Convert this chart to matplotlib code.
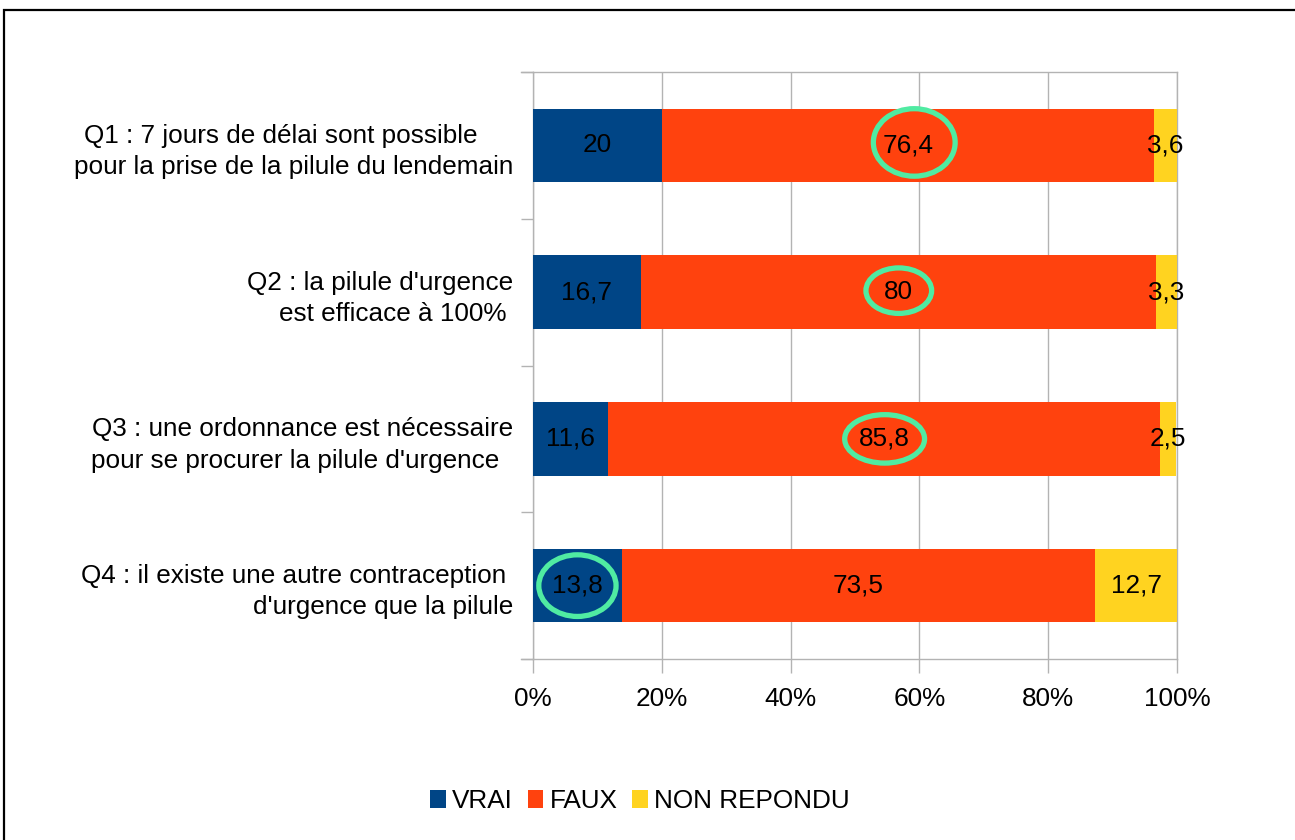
import matplotlib
matplotlib.use("Agg")
import matplotlib.pyplot as plt
from matplotlib import font_manager
from matplotlib.patches import Ellipse, Rectangle
import numpy as np

categories = [
    "Q1 : 7 jours de délai sont possible     \npour la prise de la pilule du lendemain",
    "Q2 : la pilule d'urgence\nest efficace à 100% ",
    "Q3 : une ordonnance est nécessaire\npour se procurer la pilule d'urgence  ",
    "Q4 : il existe une autre contraception \nd'urgence que la pilule",
]
series_names = ["VRAI", "FAUX", "NON REPONDU"]
vrai = [20, 16.7, 11.6, 13.8]
faux = [76.4, 80, 85.8, 73.5]
non_repondu = [3.6, 3.3, 2.5, 12.7]
xticks = [0, 20, 40, 60, 80, 100]
xtick_labels = ["0%", "20%", "40%", "60%", "80%", "100%"]
# highlighted labels: (series index, category index)
highlights = [(1, 0), (1, 1), (1, 2), (0, 3)]

colors = ["#004586", "#ff420e", "#ffd320"]
ring_color = "#50eba2"
grid_color = "#b3b3b3"

# font choice
try:
    font_manager.findfont("Liberation Sans Narrow", fallback_to_default=False)
    fam = ["Liberation Sans Narrow", "DejaVu Sans"]
    fs = 23
except Exception:
    fam = ["Liberation Sans", "DejaVu Sans"]
    fs = 18.8
plt.rcParams["font.family"] = fam

W, H = 1295, 840
fig = plt.figure(figsize=(W / 100, H / 100), dpi=100)
ax = fig.add_axes([533 / W, 1 - 659 / H, (1177 - 533) / W, (659 - 72) / H])

y = np.arange(len(categories))
data = [vrai, faux, non_repondu]
left = np.zeros(len(categories))
containers = []
for i, (vals, c, name) in enumerate(zip(data, colors, series_names)):
    vals = np.array(vals, dtype=float)
    bc = ax.barh(y, vals, left=left, height=0.5, color=c, label=name, zorder=3)
    containers.append(bc)
    for j, v in enumerate(vals):
        txt = ("%g" % v).replace(".", ",")
        ax.text(left[j] + v / 2, y[j], txt, ha="center", va="center",
                fontsize=fs, color="black", zorder=5)
    left = left + vals

# highlight rings
cum = np.cumsum(np.array(data), axis=0)
ring_sizes = {(1, 0): (12.7, 0.46, 1.0, -0.02),
              (1, 1): (10.2, 0.31, 0.1, -0.01),
              (1, 2): (12.4, 0.33, 0.1, 0.0),
              (0, 3): (12.0, 0.42, 0.0, 0.0)}
for (s, c) in highlights:
    start = cum[s - 1][c] if s > 0 else 0.0
    cx = start + data[s][c] / 2
    w, h, dx, dy = ring_sizes[(s, c)]
    e = Ellipse((cx + dx, y[c] + dy), w, h, fill=False, edgecolor=ring_color,
                linewidth=3.8, zorder=6)
    ax.add_patch(e)

ax.set_xlim(0, 100)
ax.set_ylim(len(categories) - 0.5, -0.5)
ax.set_xticks(xticks)
ax.set_xticklabels(xtick_labels, fontsize=fs)
ax.set_yticks(y)
ax.set_yticklabels(categories, fontsize=fs, linespacing=1.38)
ax.set_yticks(np.arange(len(categories) + 1) - 0.5, minor=True)
ax.tick_params(axis="y", which="major", length=0, pad=14)
ax.tick_params(axis="y", which="minor", length=9, color=grid_color, width=1)
ax.tick_params(axis="x", which="major", length=10, color=grid_color, width=1, pad=10.5)
ax.grid(axis="x", color=grid_color, linewidth=1, zorder=0)
ax.set_axisbelow(True)
for sp in ax.spines.values():
    sp.set_color(grid_color)
    sp.set_linewidth(1)
    sp.set_zorder(1)

# extend top/bottom frame lines to the left like the reference
for yy in (-0.5, len(categories) - 0.5):
    ax.plot([-12 / 6.44, 0], [yy, yy], color=grid_color, linewidth=1,
            clip_on=False, zorder=1)

fig.legend(handles=containers, labels=series_names, loc="center",
           bbox_to_anchor=(640 / W, 1 - 801 / H), ncol=3, frameon=False,
           fontsize=fs, handlelength=0.6, handleheight=0.7,
           handletextpad=0.25, columnspacing=0.55)

# outer frame (cut at right/bottom)
fig.patches.append(Rectangle((4 / W, -0.05), 1.2, 1 - 10 / H + 0.05,
                             transform=fig.transFigure, fill=False,
                             edgecolor="black", linewidth=1.6, clip_on=False))

fig.savefig("out.png", dpi=100)
